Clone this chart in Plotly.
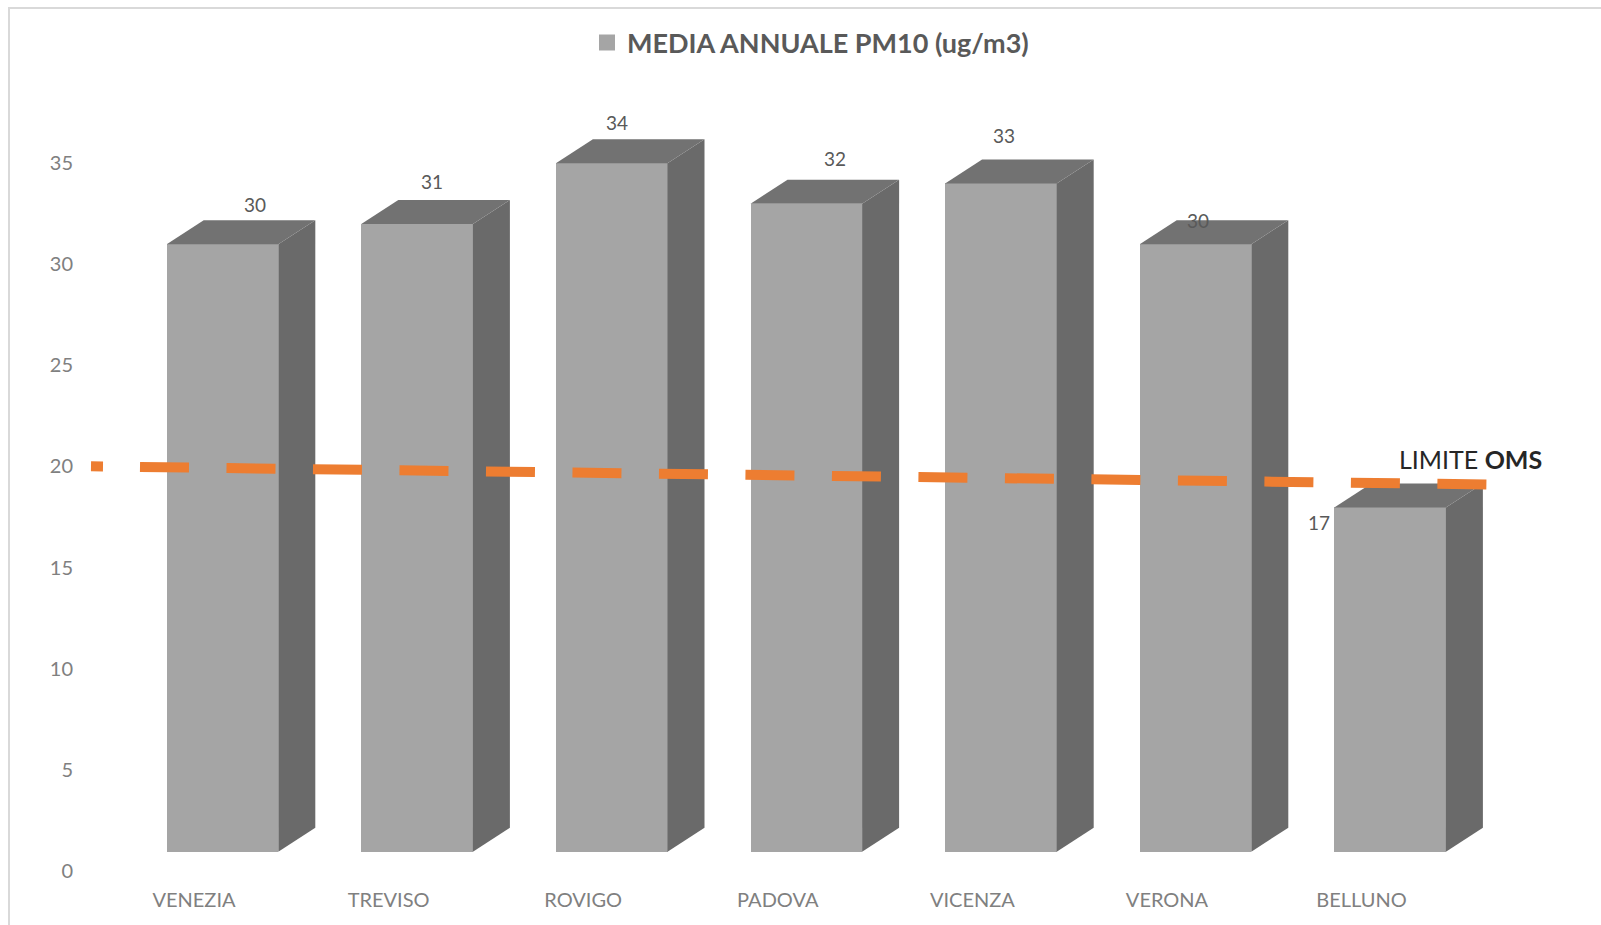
import plotly.graph_objects as go

# ---------------- data ----------------
categories = ["VENEZIA", "TREVISO", "ROVIGO", "PADOVA", "VICENZA", "VERONA", "BELLUNO"]
pm10_values = [30, 31, 34, 32, 33, 30, 17]
y_ticks = [0, 5, 10, 15, 20, 25, 30, 35]
limit_label = "LIMITE <b>OMS</b>"
limit_value = 20
limit_line_y = [20.0, 19.1]          # dashed WHO line as drawn (slight perspective drop)
series_name = "<b>MEDIA ANNUALE PM10 (ug/m3)</b>"

# ---------------- geometry / style ----------------
W, H = 1601, 925
L, R, T, B = 80, 60, 100, 45
PW, PH = W - L - R, H - T - B
PX_X = 194.6            # px per category step
PX_Y = 20.25            # px per value unit
X0_PX = 222.5           # pixel of first category centre
BAR_ZERO_PX = 851.7     # pixel of bar base
TICK_ZERO_PX = 871.3    # pixel of the "0" tick label

x_lo = -(X0_PX - L) / PX_X
x_hi = x_lo + PW / PX_X
yb_lo = -((T + PH) - BAR_ZERO_PX) / PX_Y
yb_hi = yb_lo + PH / PX_Y
yt_lo = -((T + PH) - TICK_ZERO_PX) / PX_Y
yt_hi = yt_lo + PH / PX_Y

half_w = 55.8 / PX_X
depth_x = 37.0 / PX_X
depth_y = 24.0 / PX_Y
label_shift = -28.5 / PX_X

FRONT = "#A5A5A5"
TOP = "#727272"
SIDE = "#6A6A6A"
ORANGE = "#ED7D31"
FONT = "Lato"

# value label nudges (pixels) relative to top-centre of front face
label_nudges = [(32, 40), (15, 42), (5, 41), (29, 45), (3, 48), (2, 24), (-71, -15)]

fig = go.Figure()

# front faces as bars
xs = list(range(len(categories)))
fig.add_trace(go.Bar(
    x=xs, y=pm10_values, width=2 * half_w,
    marker=dict(color=FRONT, line=dict(width=0)),
    name=series_name, showlegend=False, yaxis="y", hoverinfo="skip",
))
# legend entry (square swatch)
fig.add_trace(go.Scatter(
    x=[None], y=[None], mode="markers", name=series_name,
    marker=dict(symbol="square", size=16, color=FRONT), showlegend=True, yaxis="y",
))

# side and top faces
for i, v in enumerate(pm10_values):
    xr = i + half_w
    fig.add_trace(go.Scatter(
        x=[xr, xr + depth_x, xr + depth_x, xr, xr],
        y=[0, depth_y, v + depth_y, v, 0],
        fill="toself", fillcolor=SIDE, mode="lines", line=dict(width=0, color=SIDE),
        showlegend=False, hoverinfo="skip", yaxis="y",
    ))
    xl = i - half_w
    fig.add_trace(go.Scatter(
        x=[xl, xr, xr + depth_x, xl + depth_x, xl],
        y=[v, v, v + depth_y, v + depth_y, v],
        fill="toself", fillcolor=TOP, mode="lines", line=dict(width=0, color=TOP),
        showlegend=False, hoverinfo="skip", yaxis="y",
    ))

# WHO limit dashed line (on tick axis)
line_x = [(91 - X0_PX) / PX_X, (1489 - X0_PX) / PX_X]
dash_pattern = "12px,37px," + ",".join(["49px,37.5px"] * 16)
fig.add_trace(go.Scatter(
    x=line_x, y=limit_line_y, mode="lines",
    line=dict(color=ORANGE, width=10, dash=dash_pattern),
    showlegend=False, hoverinfo="skip", yaxis="y2",
))

annotations = []
for i, (v, (dx, dy)) in enumerate(zip(pm10_values, label_nudges)):
    annotations.append(dict(
        x=i, y=v, xref="x", yref="y", text=str(v), showarrow=False,
        xshift=dx, yshift=dy, font=dict(family=FONT, size=19, color="#595959"),
    ))
annotations.append(dict(
    x=(1470 - X0_PX) / PX_X, y=limit_line_y[1], xref="x", yref="y2",
    text=limit_label, showarrow=False, yshift=26,
    font=dict(family=FONT, size=25, color="#262626"),
))

fig.update_layout(
    width=W, height=H,
    margin=dict(l=L, r=R, t=T, b=B),
    paper_bgcolor="white", plot_bgcolor="white",
    xaxis=dict(range=[x_lo, x_hi], tickvals=[i + label_shift for i in xs], ticktext=categories,
               showgrid=False, zeroline=False, showline=False, ticks="",
               tickfont=dict(family=FONT, size=20, color="#808080"), ticklabelstandoff=6),
    yaxis=dict(range=[yb_lo, yb_hi], visible=False),
    yaxis2=dict(range=[yt_lo, yt_hi], overlaying="y", side="left", tickvals=y_ticks,
                showgrid=False, zeroline=False, showline=False, ticks="",
                tickfont=dict(family=FONT, size=20, color="#808080"), ticklabelstandoff=6),
    legend=dict(orientation="h", x=0.5, xanchor="center", y=(T + PH - 43) / PH, yanchor="middle",
                font=dict(family=FONT, size=27, color="#595959"), bgcolor="rgba(0,0,0,0)"),
    annotations=annotations,
    shapes=[dict(type="rect", xref="paper", yref="paper",
                 x0=(9 - L) / PW, x1=(1640 - L) / PW, y0=(T + PH - 960) / PH, y1=(T + PH - 8) / PH,
                 line=dict(color="#D9D9D9", width=2), fillcolor="rgba(0,0,0,0)", layer="below")],
    bargap=0,
)

fig.write_html("out.html")
